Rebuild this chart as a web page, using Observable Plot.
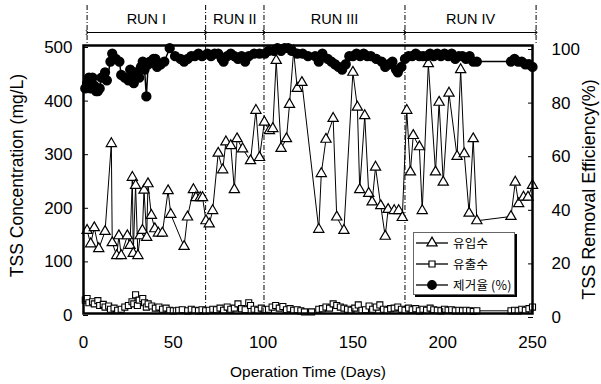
<!DOCTYPE html>
<html>
<head>
<meta charset="utf-8">
<script src="https://cdn.jsdelivr.net/npm/d3@7"></script>
<script src="https://cdn.jsdelivr.net/npm/@observablehq/plot@0.6"></script>
<style>
  body { margin: 0; background: #fff; }
  #wrap { position: relative; width: 601px; height: 384px; }
  #legend { position: absolute; left: 413px; top: 232px; width: 100px; height: 61px;
    border: 1px solid #666; box-shadow: 2px 2px 0 #000; background: #fff;
    font-family: "Noto Sans CJK KR", sans-serif; font-size: 12.5px; color: #000; }
  .row { position: absolute; left: 0; height: 20px; display: flex; align-items: center; white-space: nowrap; }
  .row svg { display: block; flex: none; }
  .row span { margin-left: 3px; letter-spacing: 0.2px; line-height: 20px; white-space: nowrap; }
</style>
</head>
<body>
<div id="wrap"></div>
<script>
// ---- data ----
const influentDay = [2,4,6,8.5,12,15.5,16,18.5,19.7,21,24.4,25.9,27.2,27.7,29,30.3,31.5,32.8,33.7,35.2,35.9,37.8,39.7,41.7,43.9,47.1,48.6,56,57.9,61.2,62.6,65,66.3,68.2,70,71.9,75,77.5,79.3,82,84,85.5,88.6,93,96,98,100.7,103.5,105.4,107.3,110,113,114.7,117,119,121.6,131,132.4,135,139,141,145,150,152.5,153.8,156.6,158.8,160.7,162.6,165.5,168,169.6,173,175.5,177.5,180,182,183.6,187,188.6,192,196,198,200.3,203.5,208,210,212,214.7,217,219,238,240.4,242.3,245,247.5,250];
const influentTSS = [155,130,160,121,153,317,132,108,145,108,145,127,254,112,239,108,145,155,230,142,242,183,158,150,150,229,185,125,180,231,216,216,216,173,167,192,299,268,320,313,231,326,307,285,379,291,357,341,345,472,308,326,390,490,420,431,157,261,325,364,180,155,450,385,231,369,224,208,273,201,144,194,192,192,179,379,264,332,311,192,466,264,394,245,411,293,455,298,187,326,173,181,245,205,217,217,239];

const effluentDay = [1,2,3,5,6,8,9,11,12,14,15,17,19,21,23,25,27,28,29,30,31,33,34,35,36,38,40,42,44,46,48,50,53,55,58,60,62,64,66,68,70,72,74,76,78,80,82,84,86,88,90,92,93,95,97,99,101,103,105,107,109,111,113,115,117,119,121,123,127,131,133,135,137,139,141,143,145,147,149,151,153,155,157,159,161,163,165,167,169,171,173,175,177,179,181,183,185,187,189,191,193,195,197,199,201,203,205,207,209,211,213,215,217,219,238,240,242,244,246,248,250];
const effluentTSS = [25,28,20,22,18,24,15,17,12,14,8,10,6,8,12,15,22,18,35,15,25,28,20,12,18,14,10,12,8,10,6,5,6,7,5,8,6,5,7,5,6,8,7,10,6,12,8,10,18,9,7,20,15,8,6,10,7,8,12,15,10,13,7,9,6,7,5,3,3,8,9,12,10,18,15,12,10,8,6,10,16,6,7,14,8,12,16,8,6,9,10,12,8,6,10,7,9,5,8,6,10,7,6,5,8,6,7,5,6,5,6,5,4,5,5,6,5,8,6,9,12];

const removalDay = [1,2,3,4,5,6,7,8,9,10,12,13,15,16,18,20,21,23,25,26,27,28,29,31,32,33,34,35,36,37,39,40,41,43,45,48,51,54,56,58,60,62,64,66,69,71,73,75,77,78,80,82,84,86,88,90,92,95,98,101,103,106,108,110,112,114,116,119,122,125,129,131,133,136,138,140,142,144,146,148,150,152,154,156,158,160,163,166,168,170,172,174,175,177,179,181,183,185,187,189,191,193,195,197,199,201,203,205,207,209,211,213,215,217,219,238,240,242,244,246,248,250];
const removalPct = [84,86,88,84,88,85,83,83,84,88,90,87,94,97,95,94,89,88,87,91,88,86,90,88,92,94,91,81,93,94,95,95,92,93,94,99,96,95,94,95,96,96,97,96,97,96,97,97,95,94,96,97,96,95,96,94,96,97,97,97,98,98,99,98,99,99,98,97,97,96,96,94,97,95,94,93,92,91,93,96,96,97,96,97,96,96,95,94,92,93,94,91,90,92,95,96,96,97,96,96,96,97,96,97,96,97,96,97,95,96,96,95,96,94,94,94,95,94,94,93,93,92];

const runNames = ["RUN I", "RUN II", "RUN III", "RUN IV"];
const runStarts = [2, 68, 100.5, 179];
const runEnds = [68, 100.5, 179, 252];

const xTicks = [0, 50, 100, 150, 200, 250];
const yTicks = [0, 100, 200, 300, 400, 500];
const effTicks = [0, 20, 40, 60, 80, 100];

const xTitle = "Operation Time (Days)";
const yTitle = "TSS Concentration (mg/L)";
const y2Title = "TSS Removal Efficiency(%)";
const legendLabels = ["유입수", "유출수", "제거율 (%)"];

// ---- build ----
const yMax = 500, effMax = 100, effScale = yMax / effMax;
const influent = influentDay.map((d, i) => ({day: d, v: influentTSS[i]}));
const effluent = effluentDay.map((d, i) => ({day: d, v: effluentTSS[i]}));
const removal = removalDay.map((d, i) => ({day: d, p: removalPct[i]}));
const runs = runNames.map((n, i) => ({name: n, start: runStarts[i], end: runEnds[i]}));
const bounds = [...runStarts, runEnds[runEnds.length - 1]].map((b, i, a) => ({x: b, inner: i > 0 && i < a.length - 1}));

const font = "'Liberation Sans', Arial, Helvetica, sans-serif";

const chart = Plot.plot({
  width: 601, height: 384,
  marginLeft: 83, marginRight: 69, marginTop: 45, marginBottom: 71,
  style: {fontFamily: font, fontSize: "17px", color: "#000", background: "#fff", overflow: "visible"},
  x: {domain: [0, 250]},
  y: {domain: [0, yMax]},
  marks: [
    Plot.ruleX(bounds, {x: "x", y1: yMax, y2: d => d.inner ? 0 : yMax, insetTop: -40, stroke: "#000", strokeWidth: 1, strokeDasharray: "5,2,1,2"}),
    Plot.link(runs, {x1: "start", x2: "end", y1: yMax, y2: yMax, dy: -13, stroke: "#000", strokeWidth: 1, markerStart: "arrow", markerEnd: "arrow"}),
    Plot.text(runs, {x: d => (d.start + d.end) / 2, y: yMax, dy: -26, text: "name", fontSize: 14.5}),
    Plot.line(effluent, {x: "day", y: "v", stroke: "#000", strokeWidth: 1}),
    Plot.dot(effluent, {x: "day", y: "v", symbol: "square", r: 3.4, fill: "#fff", stroke: "#000", strokeWidth: 1.1}),
    Plot.line(influent, {x: "day", y: "v", stroke: "#000", strokeWidth: 1}),
    Plot.dot(influent, {x: "day", y: "v", symbol: "triangle", r: 3.8, fill: "#fff", stroke: "#000", strokeWidth: 1.2}),
    Plot.line(removal, {x: "day", y: d => d.p * effScale, stroke: "#000", strokeWidth: 1.5}),
    Plot.dot(removal, {x: "day", y: d => d.p * effScale, r: 4.4, fill: "#000", stroke: "#000"}),
    Plot.frame({stroke: "#000", strokeWidth: 2.5}),
    Plot.axisX(xTicks, {tickSize: -5, tickPadding: 27, label: null, fontSize: 17}),
    Plot.axisY(yTicks, {tickSize: -5, tickPadding: 16, label: null, fontSize: 17, dy: 2}),
    Plot.axisY(effTicks.map(v => v * effScale), {anchor: "right", tickFormat: d => d / effScale, tickSize: -5, tickPadding: 24, label: null, fontSize: 17, dy: 4}),
    Plot.text([xTitle], {frameAnchor: "bottom", lineAnchor: "middle", dy: 59, text: d => d, fontSize: 15.5}),
    Plot.text([yTitle], {frameAnchor: "left", textAnchor: "middle", lineAnchor: "middle", dx: -66, dy: -4, rotate: -90, text: d => d, fontSize: 17.5}),
    Plot.text([y2Title], {frameAnchor: "right", textAnchor: "middle", lineAnchor: "middle", dx: 57, dy: 10, rotate: -90, text: d => d, fontSize: 18})
  ]
});
const wrap = document.getElementById("wrap");
wrap.appendChild(chart);

// legend (inside the plot area)
const legend = document.createElement("div");
legend.id = "legend";
const kinds = ["triangle", "square", "circle"];
kinds.forEach((k, i) => {
  const row = document.createElement("div");
  row.className = "row";
  row.style.top = (i * 21) + "px";
  const sym = k === "triangle" ? d3.symbolTriangle : k === "square" ? d3.symbolSquare : d3.symbolCircle;
  const r = k === "circle" ? 4.3 : k === "square" ? 3.4 : 3.8;
  const path = d3.symbol(sym, Math.PI * r * r)();
  const fill = k === "circle" ? "#000" : "#fff";
  row.innerHTML = `<svg width="36" height="14"><line x1="2" x2="34" y1="7" y2="7" stroke="#000" stroke-width="1.3"/><path transform="translate(18,7)" d="${path}" fill="${fill}" stroke="#000" stroke-width="1.2"/></svg><span>${legendLabels[i]}</span>`;
  legend.appendChild(row);
});
wrap.appendChild(legend);
</script>
</body>
</html>
